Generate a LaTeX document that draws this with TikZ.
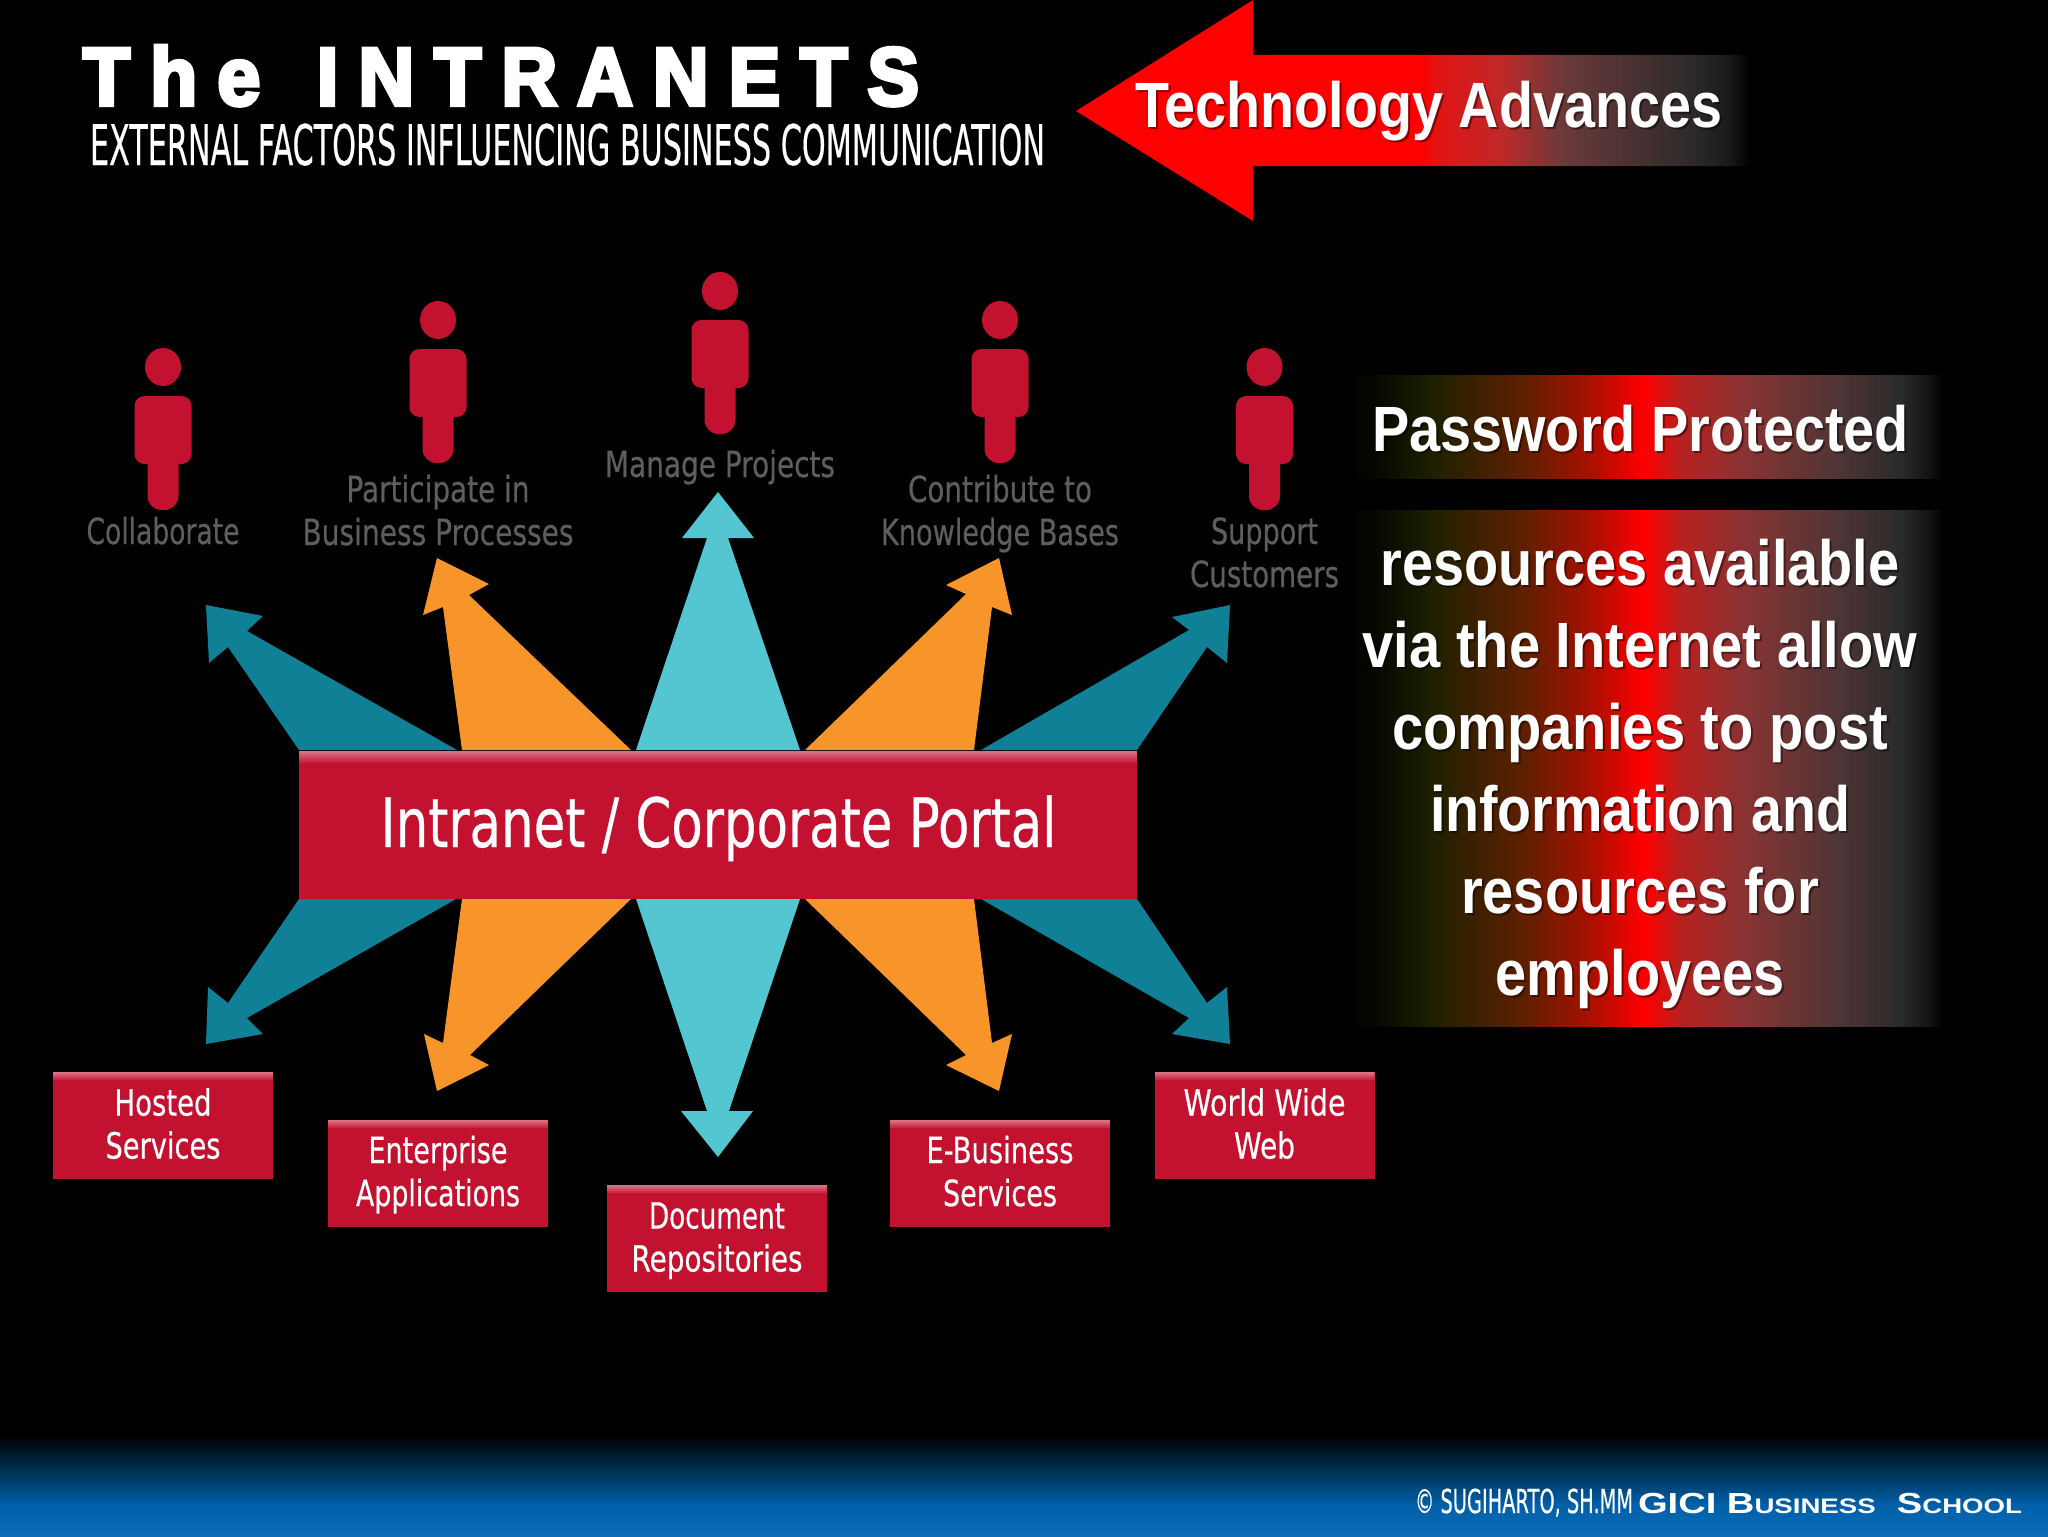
\documentclass[tikz,border=0pt]{standalone}
\usepackage{graphicx}
\usepackage{fontspec}
\setmainfont{Liberation Sans}
\newfontfamily\tech[FakeBold=0.5]{DejaVu Sans}
\newfontfamily\heavy[LetterSpace=26,FakeBold=5]{Liberation Sans}
\newlength\pxu \setlength\pxu{0.5pt}
\newcommand\fitx[2]{\resizebox{#1\pxu}{\height}{#2}}
\definecolor{boxred}{HTML}{C31230}
\definecolor{gloss}{HTML}{DB7083}
\definecolor{tealc}{HTML}{0F8096}
\definecolor{orangec}{HTML}{F7952B}
\definecolor{cyanc}{HTML}{54C6D2}
\definecolor{labgray}{HTML}{5E5E5E}
\definecolor{footblue}{HTML}{0060A8}
\definecolor{footblueb}{HTML}{0A6CB8}
\definecolor{bA}{HTML}{040800}
\definecolor{bB}{HTML}{1E2000}
\definecolor{bC}{HTML}{5E2000}
\definecolor{bD}{HTML}{A81000}
\definecolor{bE}{HTML}{FF0000}
\definecolor{bF}{HTML}{B82020}
\definecolor{bG}{HTML}{883333}
\definecolor{bH}{HTML}{503535}
\definecolor{bI}{HTML}{2A2A2A}
\definecolor{bJ}{HTML}{121212}
\definecolor{aA}{HTML}{E01515}
\definecolor{aB}{HTML}{C02828}
\definecolor{aC}{HTML}{6A3A3A}
\definecolor{aD}{HTML}{2F2A2A}
\definecolor{aE}{HTML}{1A1A1A}
\pgfdeclarehorizontalshading{bannerfade}{100bp}{color(0bp)=(black); color(25bp)=(black); color(27.5bp)=(bA); color(32.4bp)=(bB); color(39.9bp)=(bC); color(45.5bp)=(bD); color(50bp)=(bE); color(53bp)=(bF); color(58.5bp)=(bG); color(66bp)=(bH); color(71.5bp)=(bI); color(73.9bp)=(bJ); color(75bp)=(black); color(100bp)=(black)}
\pgfdeclarehorizontalshading{arrowfade}{100bp}{color(0bp)=(red); color(50.5bp)=(red); color(51.9bp)=(aA); color(56.5bp)=(aB); color(61.2bp)=(aC); color(70.5bp)=(aD); color(73.4bp)=(aE); color(75bp)=(black); color(100bp)=(black)}
\newcommand\glossbands[1]{%
  \foreach \glossi [evaluate=\glossi as \glossp using {100-100*\glossi/#1}] in {0,...,\numexpr#1-1\relax}{%
    \fill[gloss!\glossp!boxred] ([yshift=-\glossi*1pt]path picture bounding box.north west) rectangle ([yshift=-\glossi*1pt-1.05pt]path picture bounding box.north east);}}
\tikzset{
  flat/.style={inner sep=0pt,outer sep=0pt},
  redbox/.style={flat,fill=boxred,align=center,text=white,minimum width=220*0.5pt,minimum height=107*0.5pt,
    font=\tech\fontsize{18}{21.5}\selectfont,
    path picture={\glossbands{4}}},
  hubbox/.style={flat,fill=boxred,text=white,minimum width=838*0.5pt,minimum height=148*0.5pt,
    path picture={\glossbands{6}}},
  lab/.style={flat,align=center,anchor=north,text=labgray,font=\tech\fontsize{18}{21.5}\selectfont},
  bold32/.style={flat,font=\bfseries\fontsize{32}{41}\selectfont},
  shadowtext/.style={text=black,text opacity=0.45},
  whitetext/.style={text=white},
  tealarrow/.style={fill=tealc},
  orangearrow/.style={fill=orangec},
  cyanarrow/.style={fill=cyanc},
  fig/.style={fill=boxred},
}
\newcommand\boxtxt[4]{\rule{0pt}{21.75pt}\fitx{#1}{#2}\\\fitx{#3}{#4}\rule[-10.25pt]{0pt}{10.25pt}}
\newcommand\onefig[2]{\begin{scope}[shift={(#1,#2)}]
  \fill[fig] (0,0) ellipse [x radius=18,y radius=19];
  \fill[fig,rounded corners=5pt] (-28.5,29) rectangle (28.5,97);
  \fill[fig,rounded corners=7pt] (-15.5,60) rectangle (15.5,143);
\end{scope}}
\newcommand\paratext{%
  \rule{0pt}{25pt}\fitx{519}{resources available}\\
  \fitx{555}{via the Internet allow}\\
  \fitx{496}{companies to post}\\
  \fitx{420}{information and}\\
  \fitx{358}{resources for}\\
  \fitx{289}{employees}}
\begin{document}
\begin{tikzpicture}[x=0.5pt,y=-0.5pt]
\useasboundingbox (0,0) rectangle (2048,1536);
\fill[black] (0,0) rectangle (2048,1536);
% footer band
\shade[top color=black,bottom color=footblue] (0,1435) rectangle (2048,1505);
\shade[top color=footblue,bottom color=footblueb] (0,1505) rectangle (2048,1536);
% title
\node[flat,anchor=base west,text=white] (title) at (83,105) {\fitx{836}{\heavy\bfseries\fontsize{41}{44}\selectfont The\hspace{8pt} INTRANETS}};
\node[flat,anchor=base west,text=white] (subtitle) at (90,165) {\fitx{955}{\tech\fontsize{28}{30}\selectfont EXTERNAL FACTORS INFLUENCING BUSINESS COMMUNICATION}};
% red arrow
\shade[shading=arrowfade] (1076,111) -- (1253,0) -- (1253,55) -- (1750,55) -- (1750,166) -- (1253,166) -- (1253,221) -- cycle;
\node[bold32,anchor=base west,shadowtext] (techs) at (1137,129) {\fitx{587}{Technology Advances}};
\node[bold32,anchor=base west,whitetext] (tech) at (1135,127) {\fitx{587}{Technology Advances}};
% banners
\shade[shading=bannerfade] (1345,375) rectangle (1943,478);
\shade[shading=bannerfade] (1345,510) rectangle (1943,1026);
\node[bold32,anchor=base,shadowtext] (passs) at (1642.5,453.5) {\fitx{537}{Password Protected}};
\node[bold32,anchor=base,whitetext] (pass) at (1640.5,451.5) {\fitx{537}{Password Protected}};
\node[bold32,align=center,anchor=north,shadowtext] (paras) at (1642,537.5) {\paratext};
\node[bold32,align=center,anchor=north,whitetext] (para) at (1640,535.5) {\paratext};
% star arrows up
\fill[tealarrow] (299,750) -- (228,647) -- (209,663) -- (206,605) -- (263,616) -- (247,631) -- (457,750) -- cycle;
\fill[orangearrow] (462,750) -- (443,607) -- (423,615) -- (437,558) -- (489,584) -- (469,595) -- (631,750) -- cycle;
\fill[cyanarrow] (636,750) -- (707,538) -- (682,538) -- (718,492) -- (754,538) -- (728,538) -- (800,750) -- cycle;
\fill[orangearrow] (974,750) -- (992,607) -- (1012,615) -- (999,558) -- (946,585) -- (966,594) -- (805,750) -- cycle;
\fill[tealarrow] (1137,750) -- (1207,647) -- (1227,663) -- (1230,605) -- (1172,617) -- (1189,630) -- (981,750) -- cycle;
% star arrows down
\fill[tealarrow] (299,899) -- (228,1003) -- (208,987) -- (206,1044) -- (263,1034) -- (247,1018) -- (456,899) -- cycle;
\fill[orangearrow] (462,899) -- (443,1043) -- (424,1034) -- (437,1091) -- (489,1065) -- (470,1055) -- (631,899) -- cycle;
\fill[cyanarrow] (636,899) -- (707,1111) -- (681,1111) -- (718,1157) -- (753,1111) -- (729,1111) -- (800,899) -- cycle;
\fill[orangearrow] (974,899) -- (992,1043) -- (1012,1034) -- (999,1091) -- (946,1065) -- (966,1055) -- (805,899) -- cycle;
\fill[tealarrow] (1137,899) -- (1207,1003) -- (1227,987) -- (1230,1044) -- (1172,1034) -- (1189,1018) -- (981,899) -- cycle;
% hub
\node[hubbox] (hub) at (717.75,825) {};
\node[flat,anchor=base,text=white] (hubtext) at (718.5,847) {\fitx{676}{\tech\fontsize{34}{36}\selectfont Intranet / Corporate Portal}};
% people
\onefig{163}{367}
\onefig{438}{320}
\onefig{720}{291}
\onefig{1000}{320}
\onefig{1264.5}{367}
% top labels
\node[lab] (collab) at (163,504) {\rule{0pt}{20pt}\fitx{153}{Collaborate}};
\node[lab] (partic) at (438,462) {\rule{0pt}{20pt}\fitx{183}{Participate in}\\\fitx{271}{Business Processes}};
\node[lab] (manage) at (720,437) {\rule{0pt}{20pt}\fitx{230}{Manage Projects}};
\node[lab] (contrib) at (1000,462) {\rule{0pt}{20pt}\fitx{184}{Contribute to}\\\fitx{238}{Knowledge Bases}};
\node[lab] (support) at (1264.5,504) {\rule{0pt}{20pt}\fitx{107}{Support}\\\fitx{149}{Customers}};
% bottom boxes
\node[redbox] (hosted) at (163,1125.5) {\boxtxt{97}{Hosted}{115}{Services}};
\node[redbox] (enterprise) at (438,1173) {\boxtxt{139}{Enterprise}{164}{Applications}};
\node[redbox] (document) at (717,1238.5) {\boxtxt{136}{Document}{171}{Repositories}};
\node[redbox] (ebusiness) at (1000,1173) {\boxtxt{147}{E-Business}{114}{Services}};
\node[redbox] (www) at (1264.5,1125.5) {\boxtxt{162}{World Wide}{61}{Web}};
% footer text
\node[flat,anchor=base west,text=white] (author) at (1415,1513) {\fitx{218}{\tech\fontsize{16.5}{18}\selectfont © SUGIHARTO, SH.MM}};
\node[flat,anchor=base west,text=white] (school) at (1638,1513) {\fitx{384}{\bfseries\fontsize{14.5}{16}\selectfont GICI B{\fontsize{10.5}{12}\selectfont USINESS}\ \ S{\fontsize{10.5}{12}\selectfont CHOOL}}};
\end{tikzpicture}
\end{document}
